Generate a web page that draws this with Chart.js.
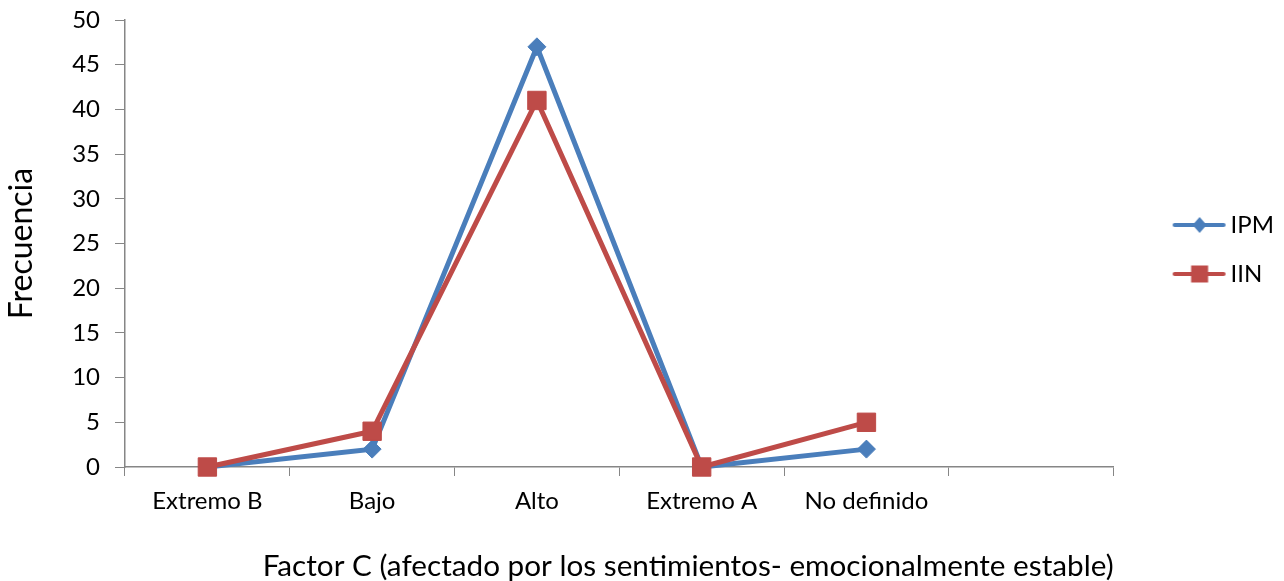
<!DOCTYPE html>
<html>
<head>
<meta charset="utf-8">
<script src="https://cdn.jsdelivr.net/npm/chart.js@4"></script>
<style>
    html, body { margin: 0; padding: 0; background: #fff; }
</style>
</head>
<body>
<canvas id="grafico" width="1284" height="581"></canvas>
<script>
const categorias = ['Extremo B', 'Bajo', 'Alto', 'Extremo A', 'No definido', ''];
const nombresSeries = ['IPM', 'IIN'];
const valoresIPM = [0, 2, 47, 0, 2];
const valoresIIN = [0, 4, 41, 0, 5];
const ticksY = [0, 5, 10, 15, 20, 25, 30, 35, 40, 45, 50];

const azul = '#4A7EBB';
const rojo = '#BE4B48';
const gris = '#868686';

Chart.defaults.font.family = 'Lato';
Chart.defaults.color = '#000';

// icono de leyenda: linea con el marcador en el medio
function iconoLeyenda(color, forma) {
    const c = document.createElement('canvas');
    c.width = 96;
    c.height = 24;
    const g = c.getContext('2d');
    g.strokeStyle = color;
    g.fillStyle = color;
    g.lineWidth = 4;
    g.lineCap = 'round';
    g.beginPath();
    g.moveTo(44, 12);
    g.lineTo(93, 12);
    g.stroke();
    const cx = 69, cy = 12;
    g.beginPath();
    if (forma === 'rectRot') {
        g.moveTo(cx - 7, cy);
        g.lineTo(cx, cy - 8);
        g.lineTo(cx + 7, cy);
        g.lineTo(cx, cy + 8);
        g.closePath();
    } else {
        g.rect(cx - 8.5, cy - 8.5, 17, 17);
    }
    g.fill();
    return c;
}

const ctx = document.getElementById('grafico').getContext('2d');

new Chart(ctx, {
    type: 'line',
    data: {
        labels: categorias,
        datasets: [{
            label: nombresSeries[0],
            data: valoresIPM,
            borderColor: azul,
            backgroundColor: azul,
            borderWidth: 5,
            pointStyle: 'rectRot',
            pointRadius: 9,
            pointHoverRadius: 9,
            pointBorderWidth: 1,
            order: 1,
            clip: false
        }, {
            label: nombresSeries[1],
            data: valoresIIN,
            borderColor: rojo,
            backgroundColor: rojo,
            borderWidth: 5,
            pointStyle: 'rect',
            pointRadius: 13,
            pointHoverRadius: 13,
            pointBorderWidth: 1,
            order: 0,
            clip: false
        }]
    },
    options: {
        responsive: false,
        animation: false,
        layout: { padding: { top: 20, left: 0, right: 0, bottom: 0 } },
        scales: {
            x: {
                offset: true,
                afterFit: s => { s.height = 114; },
                grid: {
                    offset: true,
                    drawOnChartArea: false,
                    color: gris,
                    tickLength: 9
                },
                border: { color: gris, width: 1.5 },
                ticks: { font: { size: 24 }, padding: 11, maxRotation: 0, autoSkip: false },
                title: {
                    display: true,
                    text: 'Factor C (afectado por los sentimientos- emocionalmente estable)',
                    align: 'end',
                    font: { size: 29.7, lineHeight: 1 },
                    padding: { top: 0, bottom: 0 }
                }
            },
            y: {
                min: 0,
                max: 50,
                afterFit: s => { s.width = 125; },
                afterBuildTicks: s => { s.ticks = ticksY.map(v => ({ value: v })); },
                grid: {
                    drawOnChartArea: false,
                    color: gris,
                    tickLength: 10
                },
                border: { color: gris, width: 1.5 },
                ticks: { font: { size: 24, lineHeight: 0.3 }, padding: 15 },
                title: {
                    display: true,
                    text: 'Frecuencia',
                    font: { size: 32, lineHeight: 1 },
                    padding: { top: 6, bottom: 0 }
                }
            }
        },
        plugins: {
            tooltip: { enabled: false },
            legend: {
                position: 'right',
                fullSize: false,
                maxWidth: 171,
                title: { display: true, text: ' ', font: { size: 10 }, padding: 0 },
                labels: {
                    usePointStyle: true,
                    pointStyleWidth: 80,
                    padding: 25,
                    font: { size: 24 },
                    color: '#000',
                    generateLabels: chart => {
                        const items = Chart.defaults.plugins.legend.labels.generateLabels(chart);
                        items.sort((a, b) => a.datasetIndex - b.datasetIndex);
                        items.forEach(it => {
                            const ds = chart.data.datasets[it.datasetIndex];
                            it.pointStyle = iconoLeyenda(ds.borderColor, ds.pointStyle);
                        });
                        return items;
                    }
                }
            }
        }
    }
});
</script>
</body>
</html>
